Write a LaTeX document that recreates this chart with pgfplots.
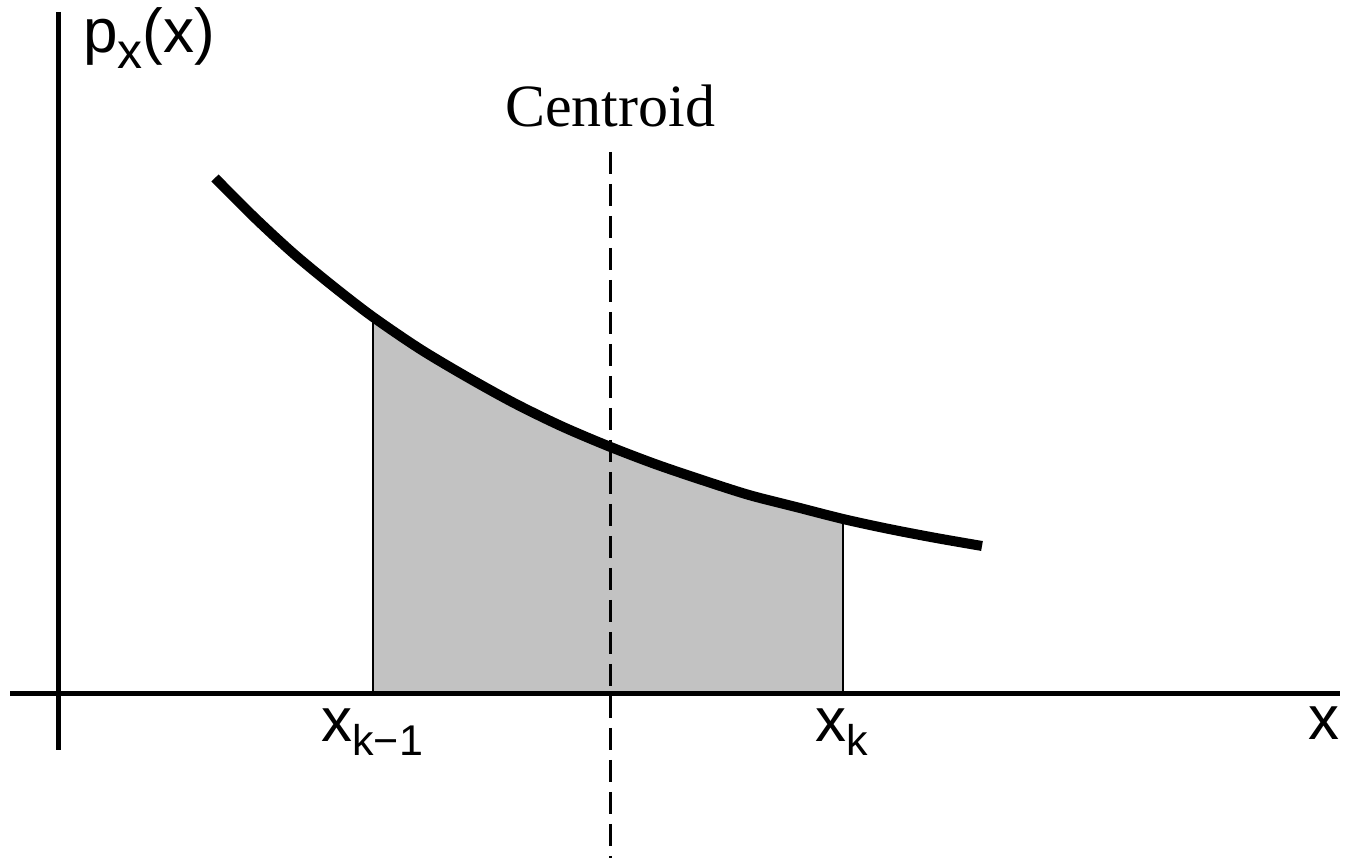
\documentclass[border=0pt]{standalone}
\usepackage{pgfplots}
\usepackage{pgfplotstable}
\pgfplotsset{compat=1.18}
\usepackage{fontspec}
\setmainfont{Liberation Sans}
\newfontfamily\serifface{Liberation Serif}

% density curve p_x(x)
\pgfplotstableread{
x     y
1.57  5.16
1.97  4.76
2.36  4.40
2.76  4.07
3.15  3.77
3.62  3.45
4.09  3.17
4.56  2.91
5.03  2.68
5.50  2.48
5.97  2.30
6.44  2.14
6.91  1.99
7.38  1.87
7.85  1.75
8.31  1.65
8.78  1.56
9.24  1.48
}\curve

% the cell [x_{k-1}, x_k]
\pgfplotstableread{
x     y
3.15  3.77
3.62  3.45
4.09  3.17
4.56  2.91
5.03  2.68
5.50  2.48
5.97  2.30
6.44  2.14
6.91  1.99
7.38  1.87
7.85  1.75
}\cell

\newcommand\lbl{\fontsize{31}{33}\selectfont}
\newcommand\sub[2][7pt]{\raisebox{-#1}{\fontsize{21.5}{23}\selectfont #2}}

\begin{document}
\begin{tikzpicture}
\begin{axis}[
  scale only axis, width=673pt, height=429.5pt,
  xmin=-0.58, xmax=12.88, ymin=-1.65, ymax=6.94,
  hide axis, clip=false]
\path (rel axis cs:0,0) rectangle (rel axis cs:1,1);

% shaded cell
\addplot[draw=none, fill=black!24, smooth] table {\cell} \closedcycle;
\addplot[black, line width=1pt] coordinates {(3.15,0) (3.15,3.77)};
\addplot[black, line width=1pt] coordinates {(7.85,0) (7.85,1.75)};

% centroid marker
\addplot[black, line width=1.5pt, dash pattern=on 11pt off 5pt]
  coordinates {(5.52,5.42) (5.52,-1.64)};

% density
\addplot[black, line width=5pt, smooth] table {\curve};

% coordinate axes
\addplot[black, line width=2.5pt] coordinates {(0,6.82) (0,-0.56)};
\addplot[black, line width=2.5pt] coordinates {(-0.48,0) (12.82,0)};

% labels
\node[anchor=base west, inner sep=0pt] at (axis cs:0.25,6.41)
  {\lbl p\raisebox{-8pt}{\fontsize{25}{27}\selectfont x}(x)};
\node[anchor=base, inner sep=0pt] at (axis cs:5.52,5.67)
  {\serifface\fontsize{30}{32}\selectfont Centroid};
\node[anchor=base west, inner sep=0pt] at (axis cs:2.63,-0.48)
  {\lbl x\sub{k−1}};
\node[anchor=base west, inner sep=0pt] at (axis cs:7.57,-0.48)
  {\lbl x\sub{k}};
\node[anchor=base west, inner sep=0pt] at (axis cs:12.50,-0.46)
  {\lbl x};
\end{axis}
\end{tikzpicture}
\end{document}
